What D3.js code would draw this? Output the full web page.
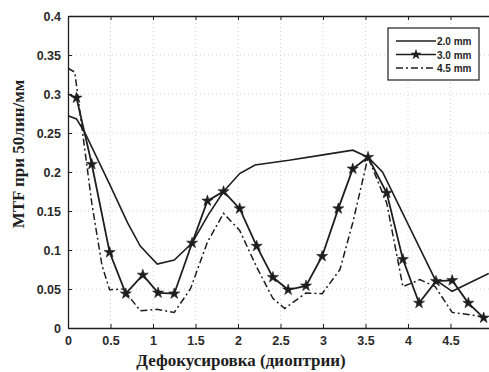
<!DOCTYPE html>
<html>
<head>
<meta charset="utf-8">
<script src="https://cdn.jsdelivr.net/npm/d3@7"></script>
<style>
  body { margin: 0; background: #fff; }
  svg { display: block; }
</style>
</head>
<body>
<div id="grafico"></div>
<script>
// datos
const xTicks = [0, 0.5, 1, 1.5, 2, 2.5, 3, 3.5, 4, 4.5];
const yTicks = [0, 0.05, 0.1, 0.15, 0.2, 0.25, 0.3, 0.35, 0.4];
const nombres = ["2.0 mm", "3.0 mm", "4.5 mm"];

// 2.0 mm
const x20 = [0, 0.1, 0.2, 0.5, 0.7, 0.85, 1.05, 1.25, 1.46, 1.65, 1.83, 2.02, 2.2, 2.6, 3.0, 3.35, 3.53, 3.7, 4.32, 4.52, 4.95];
const y20 = [0.272, 0.268, 0.25, 0.182, 0.135, 0.105, 0.082, 0.087, 0.109, 0.145, 0.175, 0.198, 0.209, 0.215, 0.222, 0.228, 0.219, 0.2, 0.062, 0.047, 0.07];

// 3.0 mm
const x30 = [0, 0.1, 0.28, 0.49, 0.68, 0.88, 1.06, 1.25, 1.46, 1.64, 1.83, 2.02, 2.22, 2.41, 2.59, 2.8, 2.99, 3.18, 3.35, 3.53, 3.75, 3.94, 4.13, 4.33, 4.52, 4.71, 4.89];
const y30 = [0.3, 0.295, 0.21, 0.097, 0.044, 0.068, 0.045, 0.044, 0.109, 0.163, 0.175, 0.153, 0.105, 0.065, 0.049, 0.054, 0.092, 0.153, 0.204, 0.219, 0.173, 0.088, 0.032, 0.06, 0.061, 0.032, 0.013];

// 4.5 mm
const x45 = [0, 0.08, 0.16, 0.28, 0.4, 0.49, 0.65, 0.85, 1.04, 1.25, 1.44, 1.64, 1.83, 2.02, 2.22, 2.41, 2.55, 2.8, 2.99, 3.2, 3.35, 3.53, 3.75, 3.94, 4.14, 4.32, 4.52, 4.73, 4.9];
const y45 = [0.333, 0.328, 0.26, 0.16, 0.08, 0.049, 0.05, 0.022, 0.024, 0.02, 0.05, 0.11, 0.147, 0.125, 0.078, 0.038, 0.025, 0.045, 0.044, 0.075, 0.135, 0.219, 0.16, 0.053, 0.062, 0.053, 0.02, 0.017, 0.014];

const ancho = 489, alto = 372;
const svg = d3.select("#grafico")
  .append("svg")
  .attr("width", ancho)
  .attr("height", alto);

const x = d3.scaleLinear().domain([0, 5]).range([68, 493]);
const y = d3.scaleLinear().domain([0, 0.4]).range([328, 16]);
const tinta = "#1e1e1e";
const fuenteNum = "'Liberation Sans', Arial, sans-serif";
const fuenteSerif = "'Liberation Serif', 'Times New Roman', serif";

// grilla punteada
svg.append("g")
  .selectAll("line")
  .data(xTicks.slice(1))
  .join("line")
  .attr("x1", d => x(d)).attr("x2", d => x(d))
  .attr("y1", y(0)).attr("y2", y(0.4))
  .attr("stroke", "#c8c8c8").attr("stroke-width", 0.8)
  .attr("stroke-dasharray", "1,3");

svg.append("g")
  .selectAll("line")
  .data(yTicks.slice(1, -1))
  .join("line")
  .attr("x1", x(0)).attr("x2", x(5))
  .attr("y1", d => y(d)).attr("y2", d => y(d))
  .attr("stroke", "#c8c8c8").attr("stroke-width", 0.8)
  .attr("stroke-dasharray", "1,3");

// ejes
const ejeX = svg.append("g")
  .attr("transform", `translate(0,${y(0)})`)
  .call(d3.axisBottom(x).tickValues(xTicks).tickSizeInner(-4).tickSizeOuter(0).tickPadding(8)
    .tickFormat(d => d));
const ejeXsup = svg.append("g")
  .attr("transform", `translate(0,${y(0.4)})`)
  .call(d3.axisTop(x).tickValues(xTicks).tickSizeInner(-4).tickSizeOuter(0).tickFormat(""));
const ejeY = svg.append("g")
  .attr("transform", `translate(${x(0)},0)`)
  .call(d3.axisLeft(y).tickValues(yTicks).tickSizeInner(-4).tickSizeOuter(0).tickPadding(7)
    .tickFormat(d => d));
const ejeYder = svg.append("g")
  .attr("transform", `translate(${x(5)},0)`)
  .call(d3.axisRight(y).tickValues(yTicks).tickSizeInner(-4).tickSizeOuter(0).tickFormat(""));

[ejeX, ejeXsup, ejeY, ejeYder].forEach(g => {
  g.select(".domain").attr("stroke", tinta).attr("stroke-width", 1.3);
  g.selectAll(".tick line").attr("stroke", tinta);
  g.selectAll("text")
    .attr("fill", "#2a2a2a")
    .style("font-family", fuenteNum)
    .style("font-size", "12.5px")
    .style("font-weight", "bold");
});

// lineas
const linea = d3.line().x(d => x(d[0])).y(d => y(d[1]));
const datos20 = d3.zip(x20, y20);
const datos30 = d3.zip(x30, y30);
const datos45 = d3.zip(x45, y45);

svg.append("path").datum(datos20).attr("d", linea)
  .attr("fill", "none").attr("stroke", tinta).attr("stroke-width", 1.6);

svg.append("path").datum(datos45).attr("d", linea)
  .attr("fill", "none").attr("stroke", tinta).attr("stroke-width", 1.5)
  .attr("stroke-dasharray", "7,3,2,3");

svg.append("path").datum(datos30).attr("d", linea)
  .attr("fill", "none").attr("stroke", tinta).attr("stroke-width", 1.8);

const estrella = d3.symbol().type(d3.symbolStar).size(38);
svg.append("g")
  .selectAll("path")
  .data(datos30.slice(1))
  .join("path")
  .attr("transform", d => `translate(${x(d[0])},${y(d[1])})`)
  .attr("d", estrella)
  .attr("fill", tinta)
  .attr("stroke", tinta).attr("stroke-width", 0.6);

// leyenda
const ley = svg.append("g").attr("transform", "translate(388,28)");
ley.append("rect")
  .attr("width", 91).attr("height", 52)
  .attr("fill", "#fff").attr("stroke", tinta).attr("stroke-width", 1.2);
const estilos = ["", "", "7,3,2,3"];
nombres.forEach((n, i) => {
  const yy = 13 + i * 13.5;
  ley.append("line")
    .attr("x1", 8).attr("x2", 48).attr("y1", yy).attr("y2", yy)
    .attr("stroke", tinta).attr("stroke-width", 1.6)
    .attr("stroke-dasharray", estilos[i]);
  if (i === 1) {
    ley.append("path").attr("d", estrella)
      .attr("transform", `translate(28,${yy})`).attr("fill", tinta);
  }
  ley.append("text")
    .attr("x", 49).attr("y", yy + 4)
    .attr("fill", tinta)
    .style("font-family", fuenteNum)
    .style("font-size", "10px")
    .style("font-weight", "bold")
    .text(n);
});

// titulos de ejes
svg.append("text")
  .attr("x", 241).attr("y", 366)
  .attr("text-anchor", "middle")
  .attr("fill", tinta)
  .style("font-family", fuenteSerif)
  .style("font-size", "17px")
  .style("font-weight", "bold")
  .text("Дефокусировка (диоптрии)");

svg.append("text")
  .attr("transform", "translate(24,154) rotate(-90)")
  .attr("text-anchor", "middle")
  .attr("fill", tinta)
  .style("font-family", fuenteSerif)
  .style("font-size", "17px")
  .style("font-weight", "bold")
  .text("MTF при 50лин/мм");
</script>
</body>
</html>
